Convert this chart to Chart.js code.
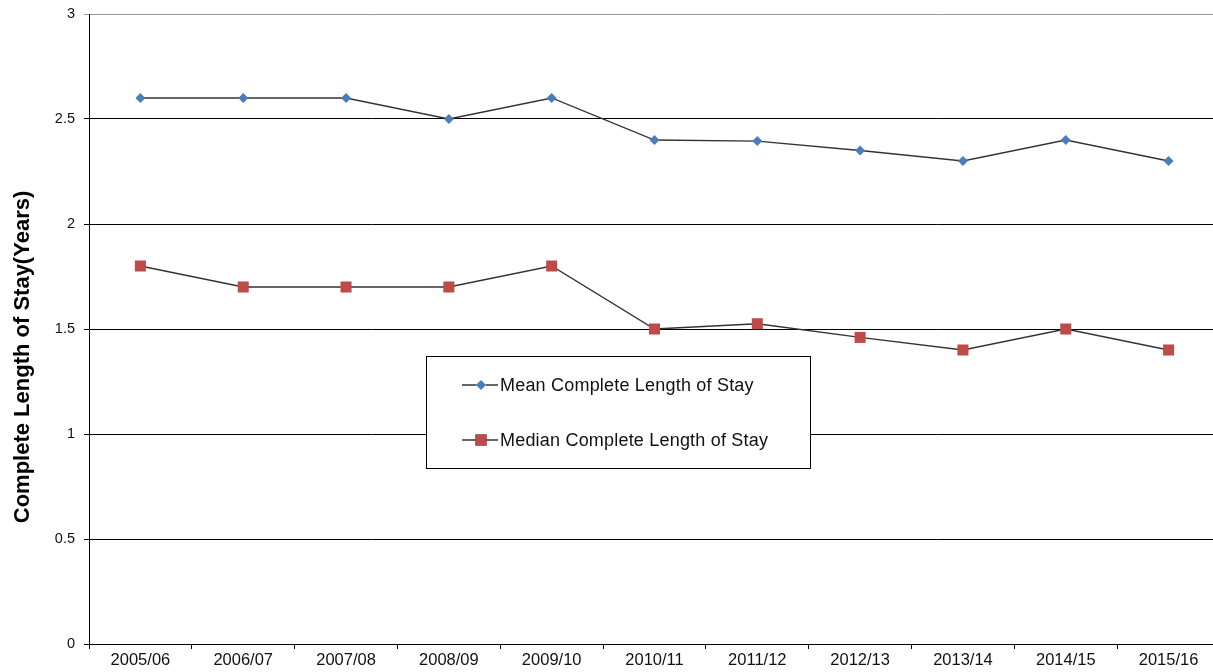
<!DOCTYPE html>
<html>
<head>
<meta charset="utf-8">
<title>Complete Length of Stay</title>
<script src="https://cdn.jsdelivr.net/npm/chart.js@4/dist/chart.umd.min.js"></script>
<style>
  html, body { margin: 0; padding: 0; background: #fff; overflow: hidden; }
  /* the original plot runs a little past the right edge of the picture */
  #wrap { width: 1220px; height: 672px; }
  canvas { display: block; }
</style>
</head>
<body>
<div id="wrap"><canvas id="losChart"></canvas></div>
<script>
'use strict';

// ********************* DATA *********************

let years = ['2005/06', '2006/07', '2007/08', '2008/09', '2009/10', '2010/11',
  '2011/12', '2012/13', '2013/14', '2014/15', '2015/16'];
let meanStay = [2.6, 2.6, 2.6, 2.5, 2.6, 2.4, 2.395, 2.35, 2.3, 2.4, 2.3];
let medianStay = [1.8, 1.7, 1.7, 1.7, 1.8, 1.5, 1.525, 1.46, 1.4, 1.5, 1.4];
let yTicks = [0, 0.5, 1, 1.5, 2, 2.5, 3];
let yTitle = 'Complete Length of Stay(Years)';

let fontName = '"Liberation Sans", Arial, sans-serif';

// ******************* PLUGINS ***********************

// legend sits inside the plot, so draw it by hand
let boxLegend = {
  id: 'boxLegend',
  afterDatasetsDraw(chart) {
    let c = chart.ctx;
    let area = chart.chartArea;
    let left = area.left + 337;
    let top = area.top + 342;
    let w = 384;
    let h = 112;

    c.save();
    c.fillStyle = '#fff';
    c.fillRect(left, top, w, h);
    c.strokeStyle = '#000';
    c.lineWidth = 1;
    c.strokeRect(left + 0.5, top + 0.5, w, h);

    c.font = '18px ' + fontName;
    c.letterSpacing = '0.2px';
    c.textBaseline = 'middle';

    chart.data.datasets.forEach((ds, i) => {
      let y = top + 29 + i * 55;
      c.strokeStyle = '#333';
      c.lineWidth = 1.3;
      c.beginPath();
      c.moveTo(left + 36, y);
      c.lineTo(left + 72, y);
      c.stroke();
      Chart.helpers.drawPoint(c, {
        pointStyle: ds.pointStyle,
        radius: ds.pointRadius,
        borderWidth: 0
      }, left + 55, y);
      c.fillStyle = ds.pointBackgroundColor;
      c.fill();
      c.fillStyle = '#111';
      c.fillText(ds.label, left + 74, y + 1);
    });
    c.restore();
  }
};

// y axis title, a bit below the middle like the original
let sideTitle = {
  id: 'sideTitle',
  afterDraw(chart) {
    let c = chart.ctx;
    let area = chart.chartArea;
    c.save();
    c.translate(23, area.top + 343);
    c.rotate(-Math.PI / 2);
    c.font = 'bold 22px ' + fontName;
    c.fillStyle = '#000';
    c.textAlign = 'center';
    c.textBaseline = 'middle';
    c.fillText(yTitle, 0, 0);
    c.restore();
  }
};

// ******************* CHART ***************************

let ctx = document.getElementById('losChart');

new Chart(ctx, {
  type: 'line',
  data: {
    labels: years,
    datasets: [{
      label: 'Mean Complete Length of Stay',
      data: meanStay,
      borderColor: '#333',
      borderWidth: 1.3,
      pointStyle: 'rectRot',
      pointRadius: 5,
      pointBackgroundColor: '#4A7EBB',
      pointBorderColor: '#4A7EBB',
      pointBorderWidth: 0,
      tension: 0,
      clip: false
    },
    {
      label: 'Median Complete Length of Stay',
      data: medianStay,
      borderColor: '#333',
      borderWidth: 1.3,
      pointStyle: 'rect',
      pointRadius: 7.8,
      pointBackgroundColor: '#BE4B48',
      pointBorderColor: '#BE4B48',
      pointBorderWidth: 0,
      tension: 0,
      clip: false
    }]
  },
  options: {
    responsive: true,
    maintainAspectRatio: false,
    animation: false,
    layout: { autoPadding: false, padding: { top: 14, right: 0, left: 0, bottom: 0 } },
    plugins: {
      legend: { display: false },
      tooltip: { enabled: false }
    },
    scales: {
      x: {
        offset: true,
        grid: {
          offset: true,
          drawOnChartArea: false,
          tickLength: 5,
          color: '#000'
        },
        border: { color: '#000', width: 1 },
        ticks: {
          color: '#111',
          font: { family: fontName, size: 16.5 },
          padding: 2,
          maxRotation: 0,
          autoSkip: false
        },
        afterFit(scale) {
          scale.height = 28;
          scale.paddingLeft = 0;
          scale.paddingRight = 0;
        }
      },
      y: {
        min: 0,
        max: 3,
        afterBuildTicks(scale) {
          scale.ticks = yTicks.map(v => ({ value: v }));
        },
        grid: {
          tickLength: 5,
          color: ctx2 => (ctx2.tick && ctx2.tick.value === 3 ? '#9a9a9a' : '#000')
        },
        border: { color: '#000', width: 1 },
        ticks: {
          color: '#111',
          font: { family: fontName, size: 14.5 },
          padding: 9,
          callback: v => String(v)
        },
        afterFit(scale) {
          scale.width = 89;
          scale.paddingTop = 0;
          scale.paddingBottom = 0;
        }
      }
    }
  },
  plugins: [boxLegend, sideTitle]
});
</script>
</body>
</html>
